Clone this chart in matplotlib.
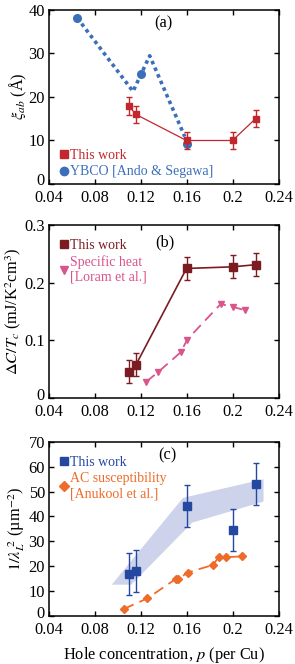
import matplotlib
matplotlib.use("Agg")
import matplotlib.pyplot as plt
import matplotlib.transforms as mtransforms
from matplotlib.lines import Line2D
import numpy as np

plt.rcParams['font.family'] = ['Liberation Serif', 'DejaVu Serif']
plt.rcParams['mathtext.fontset'] = 'stix'
plt.rcParams['font.size'] = 11.8

# ---- data ----
p_work = [0.110, 0.116, 0.160, 0.200, 0.220]

# (a) coherence length
xi_work = [17.8, 15.9, 9.9, 9.9, 14.9]
xi_err = [2, 2, 2, 2, 2]
p_ybco = [0.065, 0.120, 0.160]
xi_ybco = [38.1, 25.1, 9.0]
p_ybco_line = [0.065, 0.1135, 0.128, 0.1585]
xi_ybco_line = [38.1, 21.2, 29.4, 10.8]

# (b) specific heat jump
dc_work = [0.045, 0.057, 0.2245, 0.2273, 0.231]
dc_err = [0.02, 0.02, 0.02, 0.02, 0.02]
p_loram = [0.125, 0.1356, 0.155, 0.1606, 0.1897, 0.2007, 0.2109]
dc_loram = [0.0277, 0.045, 0.079, 0.101, 0.1627, 0.1575, 0.152]

# (c) superfluid density
ns_work = [16.8, 18.0, 44.1, 34.7, 53.2]
ns_err = [8.5, 8.5, 8.5, 8.5, 8.5]
p_ac = [0.1054, 0.126, 0.1505, 0.1528, 0.161, 0.1827, 0.188, 0.194, 0.2086]
ns_ac = [2.7, 7.0, 14.75, 14.75, 17.4, 20.4, 23.5, 23.6, 23.9]
band_upper_p = [0.095, 0.157, 0.227]
band_upper = [12.5, 47.5, 55.0]
band_lower_p = [0.112, 0.165, 0.227]
band_lower = [12.5, 37.5, 46.0]

xticks = [0.04, 0.08, 0.12, 0.16, 0.20, 0.24]
xticklabels = ['0.04', '0.08', '0.12', '0.16', '0.2', '0.24']

c_red = '#c1272d'
c_blue_a = '#3b6fba'
c_dred = '#7a1c22'
c_pink = '#d9558c'
c_blue = '#2448a0'
c_orange = '#ef6b2a'
c_band = '#cdd3ea'

fig = plt.figure(figsize=(2.95, 6.64), dpi=100)
W, H = 295, 664
def axes_px(left, right, top, bottom):
    return fig.add_axes([left / W, 1 - bottom / H, (right - left) / W, (bottom - top) / H])

axa = axes_px(48.5, 278.5, 9.7, 183.5)
axb = axes_px(48.5, 278.5, 225.0, 397.7)
axc = axes_px(48.5, 278.5, 442.0, 615.7)

for ax in (axa, axb, axc):
    ax.set_xlim(0.04, 0.24)
    ax.set_xticks(xticks)
    ax.set_xticklabels(xticklabels)
    ax.tick_params(direction='in', top=True, right=True, length=3.5, width=1.0,
                   labelsize=11.8)
    ax.tick_params(axis='x', pad=4.5)
    ax.tick_params(axis='y', pad=2.5)
    for s in ax.spines.values():
        s.set_linewidth(1.1)

LEGKW = dict(frameon=False, handlelength=0.6, handletextpad=0.15, borderpad=0.3,
             labelspacing=0.25, fontsize=10)

def legend(ax, items, loc, anchor):
    handles = [Line2D([], [], linestyle='none', marker=m, color=c, markersize=ms)
               for (lab, m, c, ms) in items]
    labels = [it[0] for it in items]
    leg = ax.legend(handles, labels, loc=loc, bbox_to_anchor=anchor, **LEGKW)
    for t, it in zip(leg.get_texts(), items):
        t.set_color(it[2])
    return leg

def lift_zero(ax):
    # nudge the bottom y tick label up slightly, as in the reference
    lab = ax.get_yticklabels()[0]
    lab.set_transform(lab.get_transform() +
                      mtransforms.ScaledTranslation(0, 3 / 72, fig.dpi_scale_trans))

# (a)
axa.set_ylim(0, 40)
axa.set_yticks([0, 10, 20, 30, 40])
axa.plot(p_ybco_line, xi_ybco_line, linestyle=(0, (1, 1)), color=c_blue_a, lw=2.6)
axa.plot(p_ybco, xi_ybco, 'o', color=c_blue_a, ms=5.5)
axa.plot(p_work, xi_work, '-', color=c_red, lw=0.9)
axa.errorbar(p_work, xi_work, yerr=xi_err, fmt='s', color=c_red, ms=5, capsize=2.5,
             elinewidth=1.0, capthick=1.0)
axa.set_ylabel(r'$\xi_{ab}$ (Å)', labelpad=0)
legend(axa, [('This work', 's', c_red, 5.5), ('YBCO [Ando & Segawa]', 'o', c_blue_a, 6)],
       'lower left', (0.0, -0.035))
axa.text(0.14, 36.9, '(a)', ha='center', va='center', fontsize=11.8)

# (b)
axb.set_ylim(0, 0.3)
axb.set_yticks([0, 0.1, 0.2, 0.3])
axb.set_yticklabels(['0', '0.1', '0.2', '0.3'])
axb.plot(p_loram, dc_loram, linestyle=(0, (6, 3.5)), color=c_pink, lw=1.3)
axb.plot(p_loram, dc_loram, 'v', color=c_pink, ms=5)
axb.plot(p_work, dc_work, '-', color=c_dred, lw=1.2)
axb.errorbar(p_work, dc_work, yerr=dc_err, fmt='s', color=c_dred, ms=5.5, capsize=2.5,
             elinewidth=1.0, capthick=1.0)
axb.set_ylabel(r'$\mathit{\Delta C/T_c}$ (mJ/K$^2$cm$^3$)', labelpad=1)
legend(axb, [('This work', 's', c_dred, 5.5), ('Specific heat\n[Loram et al.]', 'v', c_pink, 6)],
       'upper left', (0.0, 0.985))
axb.text(0.141, 0.270, '(b)', ha='center', va='center', fontsize=11.8)

# (c)
axc.set_ylim(0, 70)
axc.set_yticks(range(0, 71, 10))
band_x = band_upper_p + band_lower_p[::-1]
band_y = band_upper + band_lower[::-1]
axc.fill(band_x, band_y, color=c_band, lw=0)
axc.plot(p_ac, ns_ac, linestyle=(0, (6, 3.5)), color=c_orange, lw=1.3)
axc.plot(p_ac, ns_ac, 'D', color=c_orange, ms=4.5)
axc.errorbar(p_work, ns_work, yerr=ns_err, fmt='s', color=c_blue, ms=5.5, capsize=2.5,
             elinewidth=1.0, capthick=1.0)
axc.set_ylabel('$1/\\lambda_L^{\\ 2}$ (µm$^{-2}$)', labelpad=1)
axc.set_xlabel(r'Hole concentration, $p$ (per Cu)', labelpad=5)
legend(axc, [('This work', 's', c_blue, 5.5), ('AC susceptibility\n[Anukool et al.]', 'D', c_orange, 5)],
       'upper left', (0.0, 0.985))
axc.text(0.143, 64.8, '(c)', ha='center', va='center', fontsize=11.8)

for ax in (axa, axb, axc):
    lift_zero(ax)

fig.savefig('out.png', dpi=100)
